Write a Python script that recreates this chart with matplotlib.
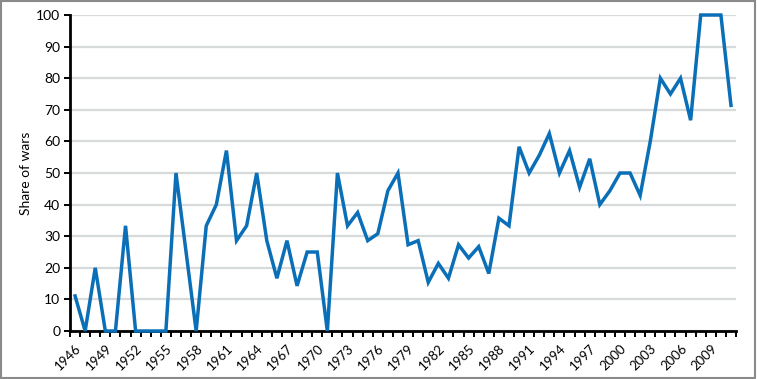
import matplotlib
matplotlib.use("Agg")
import matplotlib.pyplot as plt
from matplotlib.patches import Rectangle

# Data
years = list(range(1946, 2012))
share = [11.1, 0, 20, 0, 0, 33.3, 0, 0, 0, 0,
         50, 25, 0, 33.3, 40, 57.1, 28.6, 33.3, 50, 28.6,
         16.7, 28.6, 14.3, 25, 25, 0, 50, 33.3, 37.5, 28.6,
         30.8, 44.4, 50, 27.3, 28.6, 15.4, 21.4, 16.7, 27.3, 23.1,
         26.7, 18.2, 35.7, 33.3, 58.3, 50, 55.6, 62.5, 50, 57.1,
         45.5, 54.5, 40, 44.4, 50, 50, 42.9, 60, 80, 75,
         80, 66.7, 100, 100, 100, 71.4]
label_years = years[::3]
y_ticks = list(range(0, 101, 10))

plt.rcParams['font.family'] = ['Lato', 'DejaVu Sans']

fig = plt.figure(figsize=(7.57, 3.79), dpi=100)
ax = fig.add_axes([0.0925, 0.1266, 0.8798, 0.8338])

xs = list(range(len(years)))
ax.plot(xs, share, color='#0a6fb7', linewidth=2.5, solid_joinstyle='miter', zorder=3,
        clip_on=False)

ax.set_xlim(-0.5, len(years) - 0.5)
ax.set_ylim(0, 100)

ax.set_yticks(y_ticks)
ax.yaxis.grid(True, color='#d6dada', linewidth=1.6)
ax.set_axisbelow(True)
ax.tick_params(axis='y', direction='out', length=4, width=1.4, labelsize=10, pad=3)

ax.set_xticks([years.index(y) for y in label_years])
ax.set_xticklabels([str(y) for y in label_years], rotation=45, ha='right',
                   rotation_mode='anchor')
ax.set_xticks([i - 0.5 for i in range(len(years) + 1)], minor=True)
ax.tick_params(axis='x', which='major', length=0, labelsize=9.5, pad=8)
ax.tick_params(axis='x', which='minor', direction='out', length=4, width=1.4)

for s in ['top', 'right']:
    ax.spines[s].set_visible(False)
for s in ['left', 'bottom']:
    ax.spines[s].set_linewidth(2)
    ax.spines[s].set_color('black')

ax.set_ylabel('Share of wars', fontsize=10, labelpad=3)

fig.patches.append(Rectangle((0.001, 0.003), 0.997, 0.995, transform=fig.transFigure,
                             fill=False, edgecolor='#8a8a8a', linewidth=1.5))

fig.savefig('out.png', dpi=100)
